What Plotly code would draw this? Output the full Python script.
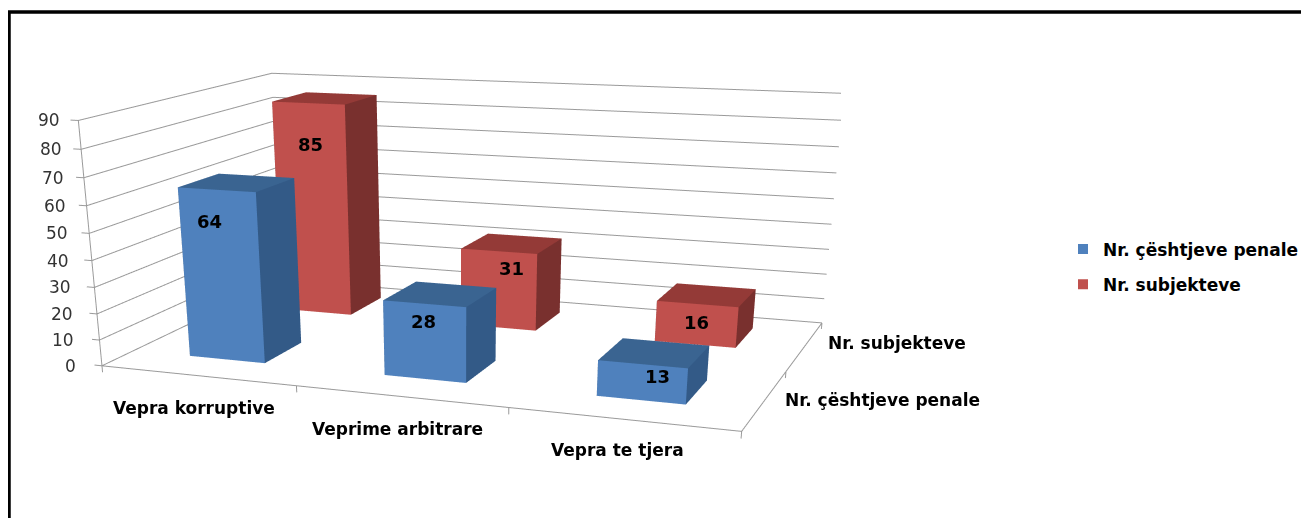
import plotly.graph_objects as go

categories = ["Vepra korruptive", "Veprime arbitrare", "Vepra te tjera"]
series_names = ["Nr. çështjeve penale", "Nr. subjekteve"]
ceshtje = [64, 28, 13]
subjekte = [85, 31, 16]
z_ticks = [0, 10, 20, 30, 40, 50, 60, 70, 80, 90]
rows = [ceshtje, subjekte]

FRONT = ["#4f81bd", "#c0504d"]
TOP = ["#3a6491", "#943a37"]
SIDE = ["#335a87", "#79302e"]
GRID = "#9a9a9a"
FONT = "DejaVu Sans"
TXT = "#000000"

# Figure is taller than the window: this gives the flatter perspective of the original.
W, H = 1301, 1400
BW_X, BW_Y = 0.1973, 0.2075
ROW_Y = [0.5156, 1.5582]
ASPECT_X, ASPECT_Z = 1.5658, 0.5679
PX, PY, PZ = 0.3, 0.3, 5

# pixel offsets of labels relative to their anchor point
DATA_SHIFT = [[(-12, -55), (-1, -20), (16, -6)], [(-2, -66), (13, -21), (0, -2)]]
CAT_SHIFT = [(-3, 32), (-3, 33), (-5, 31)]
SERIES_SHIFT = [(117, 0), (92, -3)]


def py(px):
    return 1 - (px - 8) / H


def bold(size):
    return dict(family=FONT, size=size, color=TXT, weight=700)


def bar_trace(xc, yc, val, row):
    x0, x1, y0, y1 = xc - BW_X, xc + BW_X, yc - BW_Y, yc + BW_Y
    xs = [x0, x1, x1, x0, x0, x1, x1, x0]
    ys = [y0, y0, y1, y1, y0, y0, y1, y1]
    zs = [0, 0, 0, 0, val, val, val, val]
    i = [0, 0, 4, 4, 1, 1, 0, 0, 3, 3, 0, 0]
    j = [1, 2, 5, 6, 2, 6, 1, 5, 2, 6, 3, 7]
    k = [2, 3, 6, 7, 6, 5, 5, 4, 6, 7, 7, 4]
    col = [TOP[row]] * 4 + [SIDE[row]] * 2 + [FRONT[row]] * 2 + [SIDE[row]] * 4
    return go.Mesh3d(x=xs, y=ys, z=zs, i=i, j=j, k=k, facecolor=col, flatshading=True,
                     lighting=dict(ambient=1, diffuse=0, specular=0, fresnel=0, roughness=1),
                     showlegend=False, hoverinfo="skip", showscale=False)


fig = go.Figure()
for r, vals in enumerate(rows):
    for c, v in enumerate(vals):
        fig.add_trace(bar_trace(c + 0.5, ROW_Y[r], v, r))

# walls' grid lines, axis lines and tick marks
n_cat, n_ser = len(categories), len(series_names)
top_z = z_ticks[-1]
gx, gy, gz = [], [], []
for t in z_ticks:
    gx += [0, 0, n_cat, None]; gy += [0, n_ser, n_ser, None]; gz += [t, t, t, None]
    gx += [-0.04, 0, None]; gy += [0, 0, None]; gz += [t, t, None]
gx += [0, 0, None, 0, n_cat, n_cat, None]
gy += [0, 0, None, 0, 0, n_ser, None]
gz += [0, top_z, None, 0, 0, 0, None]
for c in range(n_cat + 1):
    gx += [c, c, None]; gy += [0, 0, None]; gz += [0, -2.5, None]
for r in range(n_ser + 1):
    gx += [n_cat, n_cat, None]; gy += [r, r, None]; gz += [0, -2.5, None]
fig.add_trace(go.Scatter3d(x=gx, y=gy, z=gz, mode="lines", line=dict(color=GRID, width=2),
                           showlegend=False, hoverinfo="skip"))

for n, col in zip(series_names, FRONT):
    fig.add_trace(go.Scatter3d(x=[None], y=[None], z=[None], mode="markers", name=n, legendgroup=n,
                               marker=dict(symbol="square", size=10, color=col)))

annots = []
for r, vals in enumerate(rows):
    for c, v in enumerate(vals):
        dx, dy = DATA_SHIFT[r][c]
        annots.append(dict(x=c + 0.5, y=ROW_Y[r] - BW_Y, z=v / 2, text=str(v), showarrow=False,
                           font=bold(18), xshift=dx, yshift=-dy))
for c, n in enumerate(categories):
    dx, dy = CAT_SHIFT[c]
    annots.append(dict(x=c + 0.5, y=0, z=0, text=n, showarrow=False, font=bold(17), xshift=dx, yshift=-dy))
for r, n in enumerate(series_names):
    dx, dy = SERIES_SHIFT[r]
    annots.append(dict(x=n_cat, y=r + 0.5, z=0, text=n, showarrow=False, font=bold(17), xshift=dx, yshift=-dy))
for t in z_ticks:
    annots.append(dict(x=0, y=0, z=t, text=str(t), showarrow=False, xanchor="right",
                       xshift=-24 + t / top_z * 8, font=dict(family=FONT, size=17, color="#333333")))

noax = dict(showbackground=False, showgrid=False, zeroline=False, showspikes=False,
            showline=False, ticks="", title="", showticklabels=False)
fig.update_layout(
    width=W, height=H, margin=dict(l=0, r=0, t=0, b=0),
    paper_bgcolor="white", showlegend=True,
    font=dict(family=FONT),
    legend=dict(x=(1063 - 8) / W, y=py(267), xanchor="left", yanchor="middle", tracegroupgap=10,
                font=bold(17)),
    scene=dict(
        domain=dict(x=[0, 0.6404], y=[0, 1]),
        aspectmode="manual",
        aspectratio=dict(x=ASPECT_X / n_cat * (n_cat + 2 * PX),
                         y=1.0 / n_ser * (n_ser + 2 * PY),
                         z=ASPECT_Z / top_z * (top_z + 2 * PZ)),
        camera=dict(eye=dict(x=1.4361, y=-3.9734, z=0.8028),
                    center=dict(x=-0.2106, y=0.1573, z=-1.4224),
                    up=dict(x=0.0255, y=-0.0392, z=1),
                    projection=dict(type="perspective")),
        xaxis=dict(noax, range=[-PX, n_cat + PX]),
        yaxis=dict(noax, range=[-PY, n_ser + PY]),
        zaxis=dict(noax, range=[-PZ, top_z + PZ]),
        annotations=annots,
    ),
    shapes=[dict(type="rect", xref="paper", yref="paper", x0=1 / W, x1=1.1, y0=-0.1, y1=py(12),
                 line=dict(color="black", width=3.5), layer="above")],
)
fig.write_html("out.html")
